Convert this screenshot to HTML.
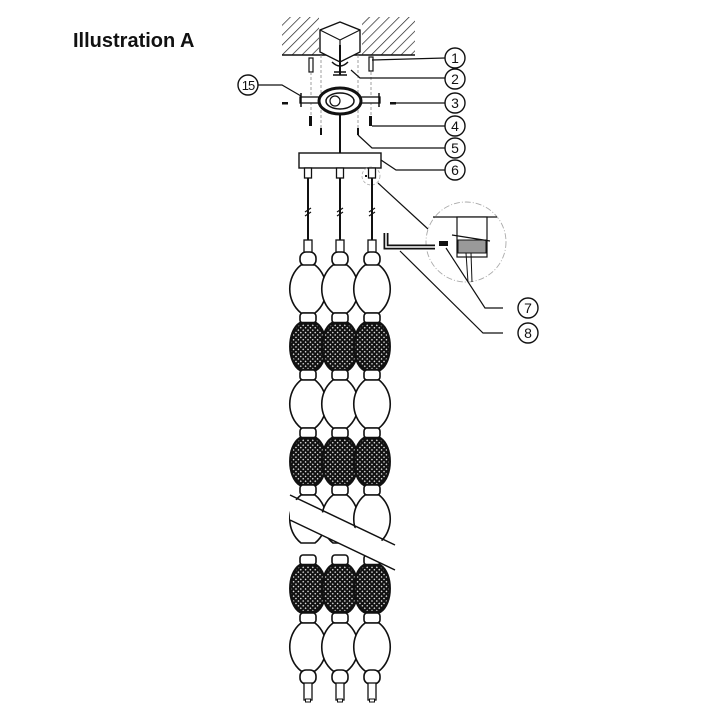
<!DOCTYPE html>
<html><head><meta charset="utf-8"><style>
html,body{margin:0;padding:0;background:#fff;}
svg{display:block;}
</style></head><body>
<svg width="720" height="720" viewBox="0 0 720 720" xmlns="http://www.w3.org/2000/svg">
<defs>
<pattern id="hatch" width="7" height="7" patternUnits="userSpaceOnUse" patternTransform="rotate(45)">
<rect width="7" height="7" fill="#fff"/><line x1="0" y1="0" x2="0" y2="7" stroke="#222" stroke-width="1.4"/>
</pattern>
<pattern id="mesh" width="3.4" height="3.4" patternUnits="userSpaceOnUse" patternTransform="rotate(45)">
<rect width="3.4" height="3.4" fill="#111"/><rect x="1" y="1" width="1.3" height="1.3" fill="#fff"/>
</pattern>
<g id="clear"><path d="M-7,0 C-22,12 -22,36 -7,48 L7,48 C22,36 22,12 7,0 Z" fill="#fff" stroke="#111" stroke-width="1.6"/></g>
<g id="dark"><path d="M-8,0 C-21,8 -21,39 -8,47 L8,47 C21,39 21,8 8,0 Z" fill="url(#mesh)" stroke="#111" stroke-width="2.4"/></g>
<g id="collar"><rect x="-8" y="0" width="16" height="10" rx="3" fill="#fff" stroke="#111" stroke-width="1.6"/></g>
<g id="col">
<line x1="0" y1="178" x2="0" y2="240" stroke="#111" stroke-width="2"/>
<path d="M-3,212 L3,208 M-3,216 L3,212" stroke="#111" stroke-width="1.2"/>
<rect x="-3.5" y="168" width="7" height="10" fill="#fff" stroke="#111" stroke-width="1.3"/>
<rect x="-4" y="240" width="8" height="13" fill="#fff" stroke="#111" stroke-width="1.3"/>
<rect x="-8" y="252" width="16" height="14" rx="6" fill="#fff" stroke="#111" stroke-width="1.6"/>
<use href="#clear" y="265"/>
<use href="#collar" y="313"/>
<use href="#dark" y="323"/>
<use href="#collar" y="370"/>
<use href="#clear" y="380"/>
<use href="#collar" y="428"/>
<use href="#dark" y="438"/>
<use href="#collar" y="485"/>
<use href="#clear" y="495"/>
<use href="#collar" y="555"/>
<use href="#dark" y="565"/>
<use href="#collar" y="613"/>
<use href="#clear" y="623"/>
<rect x="-8" y="670" width="16" height="14" rx="6" fill="#fff" stroke="#111" stroke-width="1.6"/>
<rect x="-4" y="683" width="8" height="17" fill="#fff" stroke="#111" stroke-width="1.3"/>
<rect x="-2.5" y="699" width="5" height="3" fill="#fff" stroke="#111" stroke-width="1"/>
</g>
</defs>

<text x="73" y="47" font-family="Liberation Sans, sans-serif" font-weight="bold" font-size="20" fill="#111">Illustration A</text>

<rect x="282" y="17" width="37" height="38" fill="url(#hatch)"/>
<rect x="362" y="17" width="53" height="38" fill="url(#hatch)"/>
<line x1="282" y1="55" x2="415" y2="55" stroke="#111" stroke-width="1.5"/>
<path d="M320,30 L340,22 L360,30 L360,52 L340,62 L320,52 Z" fill="#fff" stroke="#111" stroke-width="1.4"/>
<path d="M320,30 L340,40 L360,30 M340,40 L340,62" stroke="#111" stroke-width="1.2" fill="none"/>
<line x1="340" y1="45" x2="340" y2="75" stroke="#111" stroke-width="2"/>
<path d="M332,62 Q340,70 348,62 M334,72 L346,72 M333,75 L347,75" stroke="#111" stroke-width="1.5" fill="none"/>
<rect x="309" y="58" width="4" height="14" fill="#fff" stroke="#111" stroke-width="1.2"/>
<rect x="369" y="57" width="4" height="14" fill="#fff" stroke="#111" stroke-width="1.2"/>
<g stroke="#888" stroke-width="0.8" stroke-dasharray="3,2">
<line x1="311" y1="72" x2="311" y2="115"/><line x1="371" y1="72" x2="371" y2="115"/>
<line x1="321" y1="55" x2="321" y2="128"/><line x1="358" y1="55" x2="358" y2="128"/>
</g>
<rect x="300" y="97" width="80" height="6" fill="#fff" stroke="#111" stroke-width="1.3"/>
<line x1="301" y1="93" x2="301" y2="107" stroke="#111" stroke-width="1.5"/>
<line x1="379" y1="93" x2="379" y2="107" stroke="#111" stroke-width="1.5"/>
<ellipse cx="340" cy="101" rx="21" ry="13" fill="#fff" stroke="#111" stroke-width="3"/>
<ellipse cx="340" cy="101" rx="14" ry="8" fill="#fff" stroke="#111" stroke-width="1.5"/>
<ellipse cx="335" cy="101" rx="5" ry="5" fill="none" stroke="#111" stroke-width="1.2"/>
<rect x="282" y="102" width="6" height="2.5" fill="#111"/>
<rect x="390" y="102" width="6" height="2.5" fill="#111"/>
<rect x="309" y="116" width="3" height="10" fill="#111"/><rect x="369" y="116" width="3" height="10" fill="#111"/>
<rect x="320" y="128" width="2" height="7" fill="#111"/><rect x="357" y="128" width="2" height="7" fill="#111"/>
<line x1="340" y1="114" x2="340" y2="153" stroke="#111" stroke-width="2"/>
<rect x="299" y="153" width="82" height="15" fill="#fff" stroke="#111" stroke-width="1.4"/>
<circle cx="371" cy="176" r="9" fill="none" stroke="#aaa" stroke-width="0.8" stroke-dasharray="3,2"/>
<rect x="369" y="172" width="6" height="5" fill="#111"/>
<rect x="365" y="175" width="2" height="2" fill="#111"/>

<use href="#col" x="308"/>
<use href="#col" x="340"/>
<use href="#col" x="372"/>

<polygon points="290,497 395,547 395,570 290,520" fill="#fff"/>
<line x1="290" y1="495" x2="395" y2="545" stroke="#111" stroke-width="1.5"/>
<line x1="290" y1="520" x2="395" y2="570" stroke="#111" stroke-width="1.5"/>

<line x1="378" y1="183" x2="428" y2="229" stroke="#111" stroke-width="1.2"/>
<circle cx="466" cy="242" r="40" fill="none" stroke="#aaa" stroke-width="0.9" stroke-dasharray="6,2,1,2"/>
<line x1="433" y1="217" x2="497" y2="217" stroke="#111" stroke-width="1.3"/>
<rect x="457" y="217" width="30" height="40" fill="#fff" stroke="#111" stroke-width="1.2"/>
<rect x="458" y="240" width="28" height="13" fill="#999" stroke="#111" stroke-width="1"/>
<line x1="452" y1="235" x2="490" y2="241" stroke="#111" stroke-width="1.2"/>
<line x1="466" y1="253" x2="468" y2="282" stroke="#111" stroke-width="1"/>
<line x1="471" y1="253" x2="472" y2="282" stroke="#111" stroke-width="1"/>
<rect x="439" y="241" width="9" height="5" fill="#111"/>
<path d="M386,233 L386,247 L435,247" fill="none" stroke="#111" stroke-width="5"/>
<path d="M386,233 L386,247 L435,247" fill="none" stroke="#fff" stroke-width="1.5"/>

<g stroke="#111" stroke-width="1.2" fill="none">
<polyline points="372,60 445,58"/>
<polyline points="351,70 360,78 445,78"/>
<polyline points="395,103 445,103"/>
<polyline points="372,126 445,126"/>
<polyline points="358,135 372,148 445,148"/>
<polyline points="381,160 396,170 445,170"/>
<polyline points="446,248 485,308 503,308"/>
<polyline points="400,251 483,333 503,333"/>
<polyline points="257,85 282,85 301,96"/>
</g>
<g fill="#fff" stroke="#111" stroke-width="1.4">
<circle cx="455" cy="58" r="10"/><circle cx="455" cy="79" r="10"/><circle cx="455" cy="103" r="10"/>
<circle cx="455" cy="126" r="10"/><circle cx="455" cy="148" r="10"/><circle cx="455" cy="170" r="10"/>
<circle cx="528" cy="308" r="10"/><circle cx="528" cy="333" r="10"/><circle cx="248" cy="85" r="10"/>
</g>
<g font-family="Liberation Sans, sans-serif" font-size="14" fill="#111" text-anchor="middle">
<text x="455" y="63">1</text><text x="455" y="84">2</text><text x="455" y="108">3</text>
<text x="455" y="131">4</text><text x="455" y="153">5</text><text x="455" y="175">6</text>
<text x="528" y="313">7</text><text x="528" y="338">8</text>
<text x="248" y="90" font-size="13" letter-spacing="-1">15</text>
</g>
</svg>
</body></html>
